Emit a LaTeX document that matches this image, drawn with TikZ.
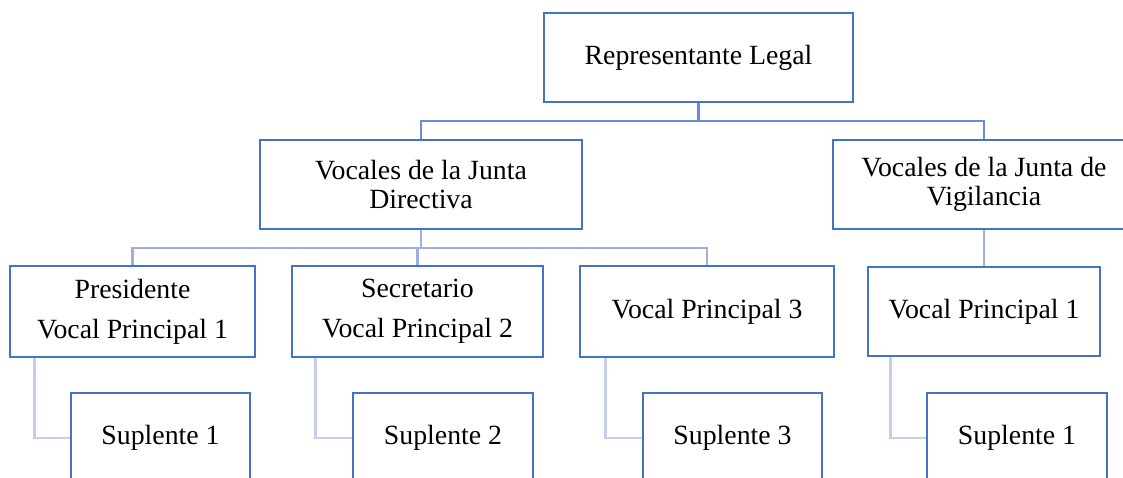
\documentclass[tikz,border=0pt]{standalone}
\usepackage{fontspec}
\setmainfont{Liberation Serif}
\definecolor{boxblue}{HTML}{4472C4}
\definecolor{lineA}{HTML}{6A8CD0}
\definecolor{lineB}{HTML}{9DAEDF}
\definecolor{lineC}{HTML}{C5CEEC}
\begin{document}
\begin{tikzpicture}[x=1pt,y=-1pt,
  orgbox/.style={draw=boxblue,line width=2.8pt,fill=white,inner sep=0pt,align=center,
     font=\fontsize{27.8}{40}\selectfont},
  tightbox/.style={orgbox,font=\fontsize{27.8}{29}\selectfont},
  connA/.style={draw=lineA,line width=2.8pt},
  connB/.style={draw=lineB,line width=2.8pt},
  connC/.style={draw=lineC,line width=2.8pt}]
\useasboundingbox (0,0) rectangle (1123,477);
\clip (0,0) rectangle (1123,477);
% nodes
\node[orgbox,minimum width=309pt,minimum height=89pt] (rl) at (698.5,57.5) {Representante Legal};
\node[tightbox,minimum width=322pt,minimum height=89pt] (jd) at (421,184.5) {Vocales de la Junta\\Directiva};
\node[tightbox,minimum width=302pt,minimum height=89pt] (jv) at (984,184.5) {Vocales de la Junta de\\Vigilancia};
\node[orgbox,minimum width=245pt,minimum height=91pt] (pres) at (132.5,311.5) {Presidente\\Vocal Principal 1};
\node[orgbox,minimum width=251pt,minimum height=91pt] (sec) at (417.5,311.5) {Secretario\\Vocal Principal 2};
\node[orgbox,minimum width=254pt,minimum height=91pt] (vp3) at (707,311.5) {Vocal Principal 3};
\node[orgbox,minimum width=232pt,minimum height=89pt] (vp1) at (984,311.5) {Vocal Principal 1};
\node[orgbox,minimum width=179pt,minimum height=90pt] (s1) at (160.5,438) {Suplente 1};
\node[orgbox,minimum width=180pt,minimum height=90pt] (s2) at (443,438) {Suplente 2};
\node[orgbox,minimum width=179pt,minimum height=90pt] (s3) at (732.5,438) {Suplente 3};
\node[orgbox,minimum width=180pt,minimum height=90pt] (s4) at (1017,438) {Suplente 1};
% buses
\coordinate (bus1) at (0,121);
\coordinate (bus2) at (0,248);
% level 1 connectors
\draw[connA] (rl.south) -- (rl.south |- bus1);
\draw[connA] (jd.north) -- (jd.north |- bus1) -- (jv.north |- bus1) -- (jv.north);
% level 2 connectors
\draw[connB] (jd.south) -- (jd.south |- bus2);
\draw[connB] (pres.north) -- (pres.north |- bus2) -- (vp3.north |- bus2) -- (vp3.north);
\draw[connB] (sec.north) -- (sec.north |- bus2);
\draw[connB] (jv.south) -- (vp1.north);
% level 3 connectors
\draw[connC] ([xshift=26pt]pres.south west) |- (s1.west);
\draw[connC] ([xshift=25pt]sec.south west) |- (s2.west);
\draw[connC] ([xshift=26.5pt]vp3.south west) |- (s3.west);
\draw[connC] ([xshift=24pt]vp1.south west) |- (s4.west);
\end{tikzpicture}
\end{document}
